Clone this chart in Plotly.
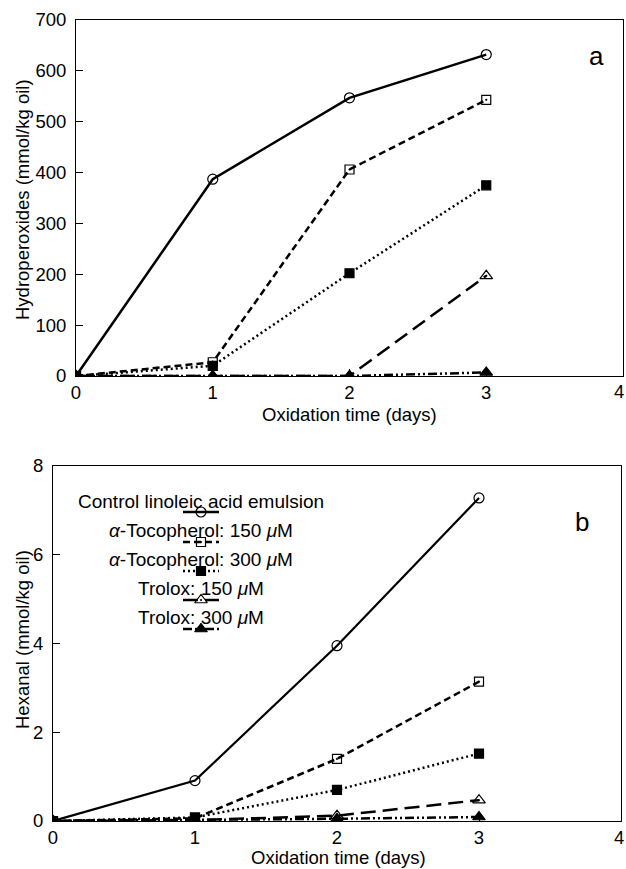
import plotly.graph_objects as go

# ---------------- data ----------------
days = [0, 1, 2, 3]
series_names = [
    "Control linoleic acid emulsion",
    "<i>α</i>-Tocopherol: 150 <i>μ</i>M",
    "<i>α</i>-Tocopherol: 300 <i>μ</i>M",
    "Trolox: 150 <i>μ</i>M",
    "Trolox: 300 <i>μ</i>M",
]
hydroperoxides_control = [0, 387, 547, 632]
hydroperoxides_toc150 = [0, 27, 406, 543]
hydroperoxides_toc300 = [0, 20, 202, 375]
hydroperoxides_trolox150 = [0, 0, 0, 197]
hydroperoxides_trolox300 = [0, 0, 0, 7]

hexanal_control = [0, 0.91, 3.95, 7.28]
hexanal_toc150 = [0, 0.06, 1.40, 3.14]
hexanal_toc300 = [0, 0.08, 0.70, 1.52]
hexanal_trolox150 = [0, 0.02, 0.12, 0.47]
hexanal_trolox300 = [0, 0.02, 0.05, 0.09]

x_ticks = [0, 1, 2, 3, 4]
y_ticks_a = [0, 100, 200, 300, 400, 500, 600, 700]
y_ticks_b = [0, 2, 4, 6, 8]

# ---------------- styles ----------------
W, H = 626, 869
FONT = "Liberation Sans, Arial, Helvetica, sans-serif"
styles = [
    dict(dash="solid", symbol="circle-open", msize=10),
    dict(dash="7px,4px", symbol="square-open-dot", msize=9),
    dict(dash="2px,3px", symbol="square", msize=9),
    dict(dash="15px,7px", symbol="triangle-up-open-dot", msize=11),
    dict(dash="9px,3px,2px,3px,2px,3px", symbol="triangle-up", msize=11),
]

top_data = [hydroperoxides_control, hydroperoxides_toc150, hydroperoxides_toc300,
            hydroperoxides_trolox150, hydroperoxides_trolox300]
bot_data = [hexanal_control, hexanal_toc150, hexanal_toc300,
            hexanal_trolox150, hexanal_trolox300]

fig = go.Figure()

order = [4, 3, 2, 1, 0]
for i in order:
    s = styles[i]
    fig.add_trace(go.Scatter(
        x=days, y=top_data[i], mode="lines+markers", xaxis="x", yaxis="y",
        line=dict(color="black", width=2.5, dash=s["dash"]),
        marker=dict(symbol=s["symbol"], size=s["msize"], color="black",
                    line=dict(color="black", width=1.2)),
        showlegend=False, name=series_names[i]))
for i in order:
    s = styles[i]
    fig.add_trace(go.Scatter(
        x=days, y=bot_data[i], mode="lines+markers", xaxis="x2", yaxis="y2",
        line=dict(color="black", width=2.2 if i == 0 else 2.5, dash=s["dash"]),
        marker=dict(symbol=s["symbol"], size=s["msize"], color="black",
                    line=dict(color="black", width=1.2)),
        showlegend=False, name=series_names[i]))

# ---------------- custom legend (text above, sample line below) ----------------
leg_cx = 201
leg_text_y = [501, 530, 559, 588, 617]
leg_line_y = [512, 542, 571, 600, 629]
leg_half = 18
annotations = []
for i in range(5):
    s = styles[i]
    fig.add_trace(go.Scatter(
        x=[leg_cx - leg_half, leg_cx, leg_cx + leg_half],
        y=[leg_line_y[i]] * 3, mode="lines", xaxis="x3", yaxis="y3",
        line=dict(color="black", width=2.5, dash=s["dash"]),
        showlegend=False, hoverinfo="skip"))
    fig.add_trace(go.Scatter(
        x=[leg_cx], y=[leg_line_y[i]], mode="markers", xaxis="x3", yaxis="y3",
        marker=dict(symbol=s["symbol"], size=s["msize"], color="black",
                    line=dict(color="black", width=1.2)),
        showlegend=False, hoverinfo="skip"))
    annotations.append(dict(
        x=leg_cx / W, y=1 - leg_text_y[i] / H, xref="paper", yref="paper",
        text=series_names[i], showarrow=False, xanchor="center", yanchor="middle",
        font=dict(family=FONT, size=19, color="black")))

# axis titles and panel letters
def ann(text, px, py, size=18.5, angle=0, xanchor="center"):
    return dict(x=px / W, y=1 - py / H, xref="paper", yref="paper", text=text,
                showarrow=False, xanchor=xanchor, yanchor="middle", textangle=angle,
                font=dict(family=FONT, size=size, color="black"))

annotations += [
    ann("Oxidation time (days)", 349, 414),
    ann("Oxidation time (days)", 338, 857),
    ann("Hydroperoxides (mmol/kg oil)", 22, 200, angle=-90),
    ann("Hexanal (mmol/kg oil)", 22, 640, angle=-90),
    ann("a", 596, 56, size=26),
    ann("b", 582, 522, size=26),
    # last x tick label ("4") sits at the right paper edge in the reference
    ann(str(x_ticks[-1]), 626, 391, xanchor="right"),
    ann(str(x_ticks[-1]), 626, 837, xanchor="right"),
]

axis_common = dict(showline=True, linecolor="black", linewidth=1, mirror=True,
                   ticks="inside", ticklen=7, tickcolor="black", tickwidth=1,
                   showgrid=False, zeroline=False, automargin=False,
                   tickfont=dict(family=FONT, size=18.5, color="black"))

fig.update_layout(
    width=W, height=H,
    margin=dict(l=0, r=0, t=0, b=0),
    paper_bgcolor="white", plot_bgcolor="rgba(0,0,0,0)",
    showlegend=False,
    xaxis=dict(domain=[76 / W, 623 / W], anchor="y", range=[0, 4],
               tickvals=x_ticks, ticklabelstandoff=0, **axis_common),
    yaxis=dict(domain=[1 - 376 / H, 1 - 20 / H], anchor="x", range=[0, 700],
               tickvals=y_ticks_a, ticklabelstandoff=5, **axis_common),
    xaxis2=dict(domain=[53 / W, 621 / W], anchor="y2", range=[0, 4],
                tickvals=x_ticks, ticklabelstandoff=0, **axis_common),
    yaxis2=dict(domain=[1 - 821 / H, 1 - 466 / H], anchor="x2", range=[0, 8],
                tickvals=y_ticks_b, ticklabelstandoff=5, **axis_common),
    xaxis3=dict(domain=[0, 1], anchor="y3", range=[0, W], visible=False,
                fixedrange=True),
    yaxis3=dict(domain=[0, 1], anchor="x3", range=[H, 0], visible=False,
                fixedrange=True),
    annotations=annotations,
)

fig.write_html("out.html")
